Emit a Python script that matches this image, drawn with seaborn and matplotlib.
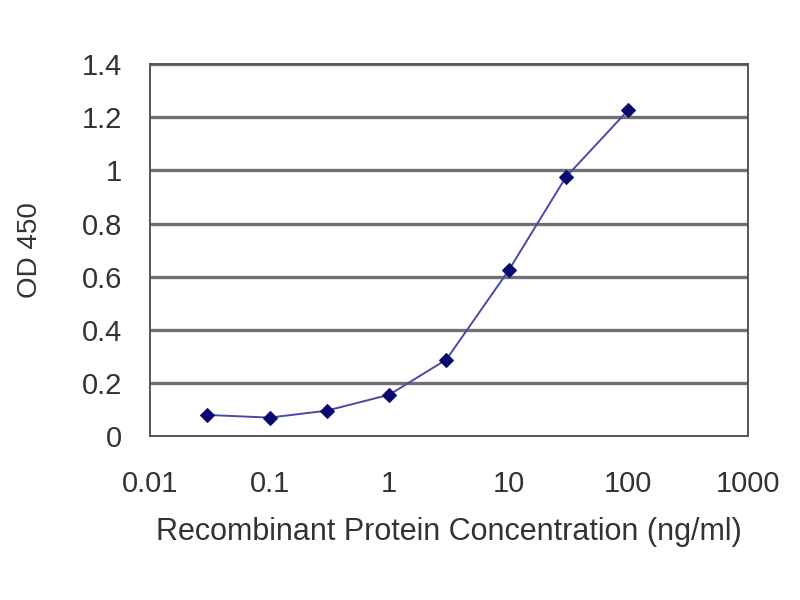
import matplotlib
matplotlib.use("Agg")
import matplotlib.pyplot as plt
import seaborn as sns
import pandas as pd
import numpy as np
from matplotlib.ticker import FixedLocator, FixedFormatter, NullLocator

concentration = [0.03, 0.1, 0.3, 1, 3, 10, 30, 100]
od450 = [0.080, 0.070, 0.096, 0.156, 0.288, 0.625, 0.975, 1.228]
x_ticks = [0.01, 0.1, 1, 10, 100, 1000]
x_tick_labels = ["0.01", "0.1", "1", "10", "100", "1000"]
y_ticks = [0, 0.2, 0.4, 0.6, 0.8, 1.0, 1.2, 1.4]
y_tick_labels = ["0", "0.2", "0.4", "0.6", "0.8", "1", "1.2", "1.4"]

df = pd.DataFrame({"conc": concentration, "od": od450})

sns.set_theme(style="white")
plt.rcParams["font.family"] = ["Liberation Sans", "DejaVu Sans"]

fig = plt.figure(figsize=(8, 6), dpi=100)
ax = fig.add_axes([0.1875, 0.273, 0.7475, 0.62])

ax.set_xscale("log")
for y in y_ticks[1:]:
    ax.axhline(y, color="#707070", lw=2.4, zorder=0)

sns.lineplot(data=df, x="conc", y="od", ax=ax, color="#4a4aa8", lw=1.4,
             marker="D", markersize=7, markerfacecolor="#0a0a6e",
             markeredgecolor="#0a0a6e", zorder=3)

ax.set_xlim(0.01, 1000)
ax.set_ylim(0, 1.4)
ax.xaxis.set_major_locator(FixedLocator(x_ticks))
ax.xaxis.set_major_formatter(FixedFormatter(x_tick_labels))
ax.xaxis.set_minor_locator(NullLocator())
ax.yaxis.set_major_locator(FixedLocator(y_ticks))
ax.yaxis.set_major_formatter(FixedFormatter(y_tick_labels))

for s in ax.spines.values():
    s.set_color("#555555")
    s.set_linewidth(1.4)

ax.tick_params(axis="both", which="major", direction="out", length=5,
               width=1.2, color="#555555", labelsize=21, labelcolor="#333333")
ax.tick_params(axis="x", pad=19)
ax.tick_params(axis="y", pad=15)

ax.set_xlabel("Recombinant Protein Concentration (ng/ml)", fontsize=22,
              color="#333333", labelpad=14)
ax.set_ylabel("OD 450", fontsize=20, color="#333333", labelpad=28)

fig.savefig("out.png", dpi=100)
